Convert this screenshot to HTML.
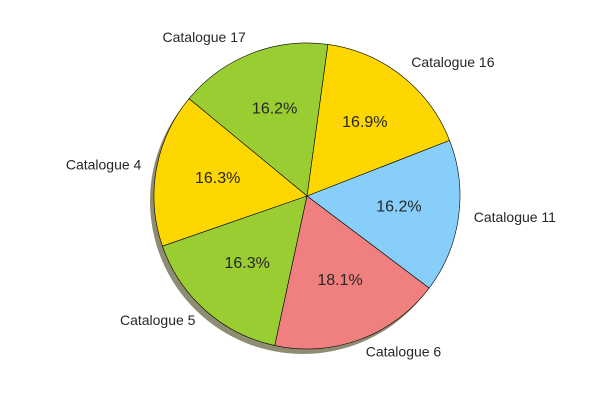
<!DOCTYPE html>
<html><head><meta charset="utf-8"><style>
body{margin:0;background:#fff;}
svg text{font-family:"Liberation Sans",sans-serif;}
</style></head><body>
<svg id="chart" width="600" height="400"></svg>
<script>
const categories=["Catalogue 11","Catalogue 16","Catalogue 17","Catalogue 4","Catalogue 5","Catalogue 6"];
const values=[16.2,16.9,16.2,16.3,16.3,18.1];
const colors=["#87CEFA","#FFD700","#9ACD32","#FFD700","#9ACD32","#F08080"];
const startAngle=-37;
const cx=307,cy=196,r=153;
const NS="http://www.w3.org/2000/svg";
const svg=document.getElementById('chart');
function mk(t,a){const e=document.createElementNS(NS,t);for(const k in a)e.setAttribute(k,a[k]);return e;}
const shadow=mk('circle',{cx:cx-4,cy:cy+5,r:r,fill:'#8e8c72'});


svg.appendChild(shadow);
const total=values.reduce((a,b)=>a+b,0);
function pt(deg,rr){const a=deg*Math.PI/180;return [cx+rr*Math.cos(a),cy-rr*Math.sin(a)];}
let ang=startAngle;
values.forEach((v,i)=>{
  const sweep=v/total*360;const a2=ang+sweep;
  const [x1,y1]=pt(ang,r),[x2,y2]=pt(a2,r);
  const p=mk('path',{d:`M${cx},${cy} L${x1},${y1} A${r},${r} 0 ${sweep>180?1:0} 0 ${x2},${y2} Z`,fill:colors[i],stroke:'#000','stroke-width':0.6,'stroke-linejoin':'round'});
  
  
  svg.appendChild(p);
  const mid=ang+sweep/2;
  const [lx,ly]=pt(mid,r*1.1);
  const c=Math.cos(mid*Math.PI/180);
  const t=mk('text',{x:lx,y:ly+3,'font-size':14,fill:'#262626','text-anchor':c>0.01?'start':(c<-0.01?'end':'middle')});
  t.textContent=categories[i];
  
  
  svg.appendChild(t);
  const [px,py]=pt(mid,r*0.6);
  const pc=mk('text',{x:px+1,y:py+3,'font-size':16,fill:'#262626','text-anchor':'middle'});
  pc.textContent=v.toFixed(1)+'%';
  
  
  svg.appendChild(pc);
  ang=a2;
});
</script>
</body></html>
